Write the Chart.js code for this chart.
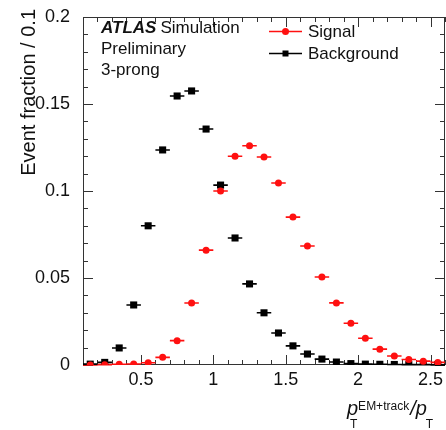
<!DOCTYPE html>
<html>
<head>
<meta charset="utf-8">
<script src="https://cdn.jsdelivr.net/npm/chart.js@4.4.0/dist/chart.umd.min.js"></script>
<style>
  html, body { margin: 0; padding: 0; background: #fff; }
</style>
</head>
<body>
<canvas id="fracChart" width="446" height="430"></canvas>
<script>
// bin centres of the pT ratio histogram (bin width 0.1)
const binCenters = [0.15, 0.25, 0.35, 0.45, 0.55, 0.65, 0.75, 0.85, 0.95, 1.05,
                    1.15, 1.25, 1.35, 1.45, 1.55, 1.65, 1.75, 1.85, 1.95, 2.05,
                    2.15, 2.25, 2.35, 2.45, 2.55];
const signalFrac = [0.0000, 0.0002, 0.0004, 0.0006, 0.0013, 0.0044, 0.0140, 0.0356, 0.0660, 0.1000,
                    0.1200, 0.1260, 0.1195, 0.1046, 0.0850, 0.0684, 0.0506, 0.0357, 0.0240, 0.0154,
                    0.0091, 0.0052, 0.0032, 0.0022, 0.0015];
const backgroundFrac = [0.0005, 0.0015, 0.0098, 0.0345, 0.0800, 0.1236, 0.1546, 0.1575, 0.1356, 0.1034,
                        0.0730, 0.0466, 0.0300, 0.0184, 0.0110, 0.0063, 0.0034, 0.0017, 0.0008, 0.0005,
                        0.0004, 0.0003, 0.0002, 0.0002, 0.0001];
const binHalfWidth = 0.05;

const xTicks = [0.5, 1, 1.5, 2, 2.5];
const xTickLabels = ['0.5', '1', '1.5', '2', '2.5'];
const yTicks = [0, 0.05, 0.1, 0.15, 0.2];
const yTickLabels = ['0', '0.05', '0.1', '0.15', '0.2'];

const FONT = 'Liberation Sans, Arial, Helvetica, sans-serif';
const AXIS_COLOR = '#333';

function toPoints(values) {
    return binCenters.map((x, i) => ({ x: x, y: values[i] }));
}

// horizontal bin-width bars, inward ticks on all four sides, labels
const atlasStyle = {
    id: 'atlasStyle',
    beforeDatasetsDraw(chart) {
        const { ctx, chartArea: area, scales: { x, y } } = chart;
        ctx.save();

        // frame
        ctx.strokeStyle = AXIS_COLOR;
        ctx.lineWidth = 1;
        ctx.strokeRect(area.left + 0.5, area.top + 0.5, area.right - area.left - 1, area.bottom - area.top - 1);

        // x ticks: major at labels, minor every 0.1
        ctx.beginPath();
        for (let k = 1; k <= 26; k++) {
            const v = k / 10;
            const px = Math.round(x.getPixelForValue(v)) + 0.5;
            const major = xTicks.some(t => Math.abs(t - v) < 1e-6);
            const len = major ? 10 : 5;
            ctx.moveTo(px, area.bottom);
            ctx.lineTo(px, area.bottom - len);
            ctx.moveTo(px, area.top);
            ctx.lineTo(px, area.top + len);
        }
        // y ticks: major every 0.05, minor every 0.01
        for (let k = 0; k <= 20; k++) {
            const v = k / 100;
            const py = Math.round(y.getPixelForValue(v)) + 0.5;
            const major = k % 5 === 0;
            const len = major ? 10 : 5;
            ctx.moveTo(area.left, py);
            ctx.lineTo(area.left + len, py);
            ctx.moveTo(area.right, py);
            ctx.lineTo(area.right - len, py);
        }
        ctx.stroke();

        // error bars (bin width)
        chart.data.datasets.forEach(ds => {
            ctx.strokeStyle = ds.borderColor;
            ctx.lineWidth = 1.6;
            ctx.beginPath();
            ds.data.forEach(p => {
                const py = y.getPixelForValue(p.y);
                ctx.moveTo(x.getPixelForValue(p.x - binHalfWidth), py);
                ctx.lineTo(x.getPixelForValue(p.x + binHalfWidth), py);
            });
            ctx.stroke();
        });
        ctx.restore();
    },
    afterDraw(chart) {
        const { ctx } = chart;
        ctx.save();
        ctx.fillStyle = '#111';
        ctx.textBaseline = 'alphabetic';
        ctx.textAlign = 'left';

        // experiment label
        ctx.font = 'italic bold 17px ' + FONT;
        ctx.fillText('ATLAS', 101, 33);
        const w = ctx.measureText('ATLAS').width;
        ctx.font = '17px ' + FONT;
        ctx.fillText('Simulation', 101 + w + 4, 33);
        ctx.fillText('Preliminary', 101, 54);
        ctx.fillText('3-prong', 101, 75);

        // legend
        const rows = [37, 59];
        chart.data.datasets.forEach((ds, i) => {
            const ly = rows[i] - 5.5;
            ctx.strokeStyle = ds.borderColor;
            ctx.lineWidth = 1.6;
            ctx.beginPath();
            ctx.moveTo(269, ly);
            ctx.lineTo(302, ly);
            ctx.stroke();
            ctx.fillStyle = ds.backgroundColor;
            if (ds.pointStyle === 'rect') {
                ctx.fillRect(285.5 - 3, ly - 3, 6, 6);
            } else {
                ctx.beginPath();
                ctx.arc(285.5, ly, 3.5, 0, Math.PI * 2);
                ctx.fill();
            }
            ctx.fillStyle = '#111';
            ctx.font = '17px ' + FONT;
            ctx.fillText(ds.label, 308, rows[i]);
        });

        // y axis title
        ctx.save();
        ctx.translate(29, 9);
        ctx.rotate(-Math.PI / 2);
        ctx.textAlign = 'right';
        ctx.textBaseline = 'middle';
        ctx.font = '20px ' + FONT;
        ctx.fillText('Event fraction / 0.1', 0, 0);
        ctx.restore();

        // x axis title: p_T^{EM+track} / p_T
        ctx.textAlign = 'left';
        let cx = 347;
        const base = 415;
        ctx.font = 'italic 20px ' + FONT;
        ctx.fillText('p', cx, base);
        const pw = ctx.measureText('p').width;
        ctx.font = '12px ' + FONT;
        ctx.fillText('T', cx + 3, base + 13);
        ctx.fillText('EM+track', cx + pw, base - 5);
        cx += pw + ctx.measureText('EM+track').width + 1;
        ctx.font = 'italic 20px ' + FONT;
        ctx.fillText('/', cx, base);
        cx += ctx.measureText('/').width;
        ctx.fillText('p', cx, base);
        cx += ctx.measureText('p').width;
        ctx.font = '12px ' + FONT;
        ctx.fillText('T', cx - 1, base + 13);
        ctx.restore();
    }
};

const tickFont = { family: FONT, size: 18 };

new Chart(document.getElementById('fracChart'), {
    type: 'scatter',
    data: {
        datasets: [{
            label: 'Signal',
            data: toPoints(signalFrac),
            borderColor: '#ff1010',
            backgroundColor: '#ff1010',
            pointStyle: 'circle',
            pointRadius: 3.5,
            pointBorderWidth: 0
        }, {
            label: 'Background',
            data: toPoints(backgroundFrac),
            borderColor: '#000',
            backgroundColor: '#000',
            pointStyle: 'rect',
            pointRadius: 5,
            pointBorderWidth: 0
        }]
    },
    options: {
        responsive: false,
        animation: false,
        layout: { autoPadding: false, padding: { left: 0, right: 1, top: 17, bottom: 0 } },
        plugins: {
            legend: { display: false },
            tooltip: { enabled: false }
        },
        scales: {
            x: {
                type: 'linear',
                min: 0.1,
                max: 2.6,
                grid: { display: false },
                border: { display: false },
                afterBuildTicks: s => { s.ticks = xTicks.map(v => ({ value: v })); },
                afterFit: s => { s.height = 65; },
                ticks: {
                    padding: -4,
                    color: '#111',
                    font: tickFont,
                    maxRotation: 0,
                    autoSkip: false,
                    callback: (v, i) => xTickLabels[i]
                }
            },
            y: {
                type: 'linear',
                min: 0,
                max: 0.2,
                grid: { display: false },
                border: { display: false },
                afterBuildTicks: s => { s.ticks = yTicks.map(v => ({ value: v })); },
                afterFit: s => { s.width = 83; },
                ticks: {
                    padding: 5,
                    color: '#111',
                    font: tickFont,
                    autoSkip: false,
                    callback: (v, i) => yTickLabels[i]
                }
            }
        }
    },
    plugins: [atlasStyle]
});
</script>
</body>
</html>
